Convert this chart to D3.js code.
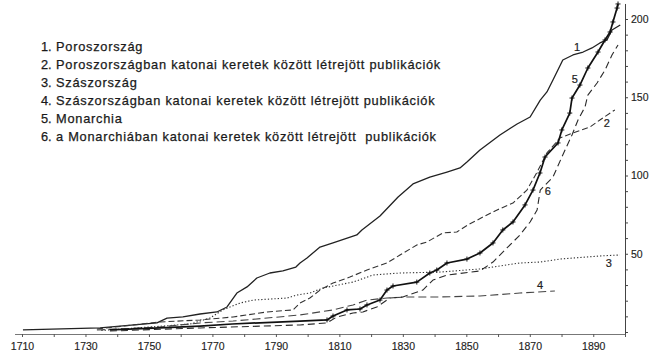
<!DOCTYPE html>
<html><head><meta charset="utf-8">
<script src="https://cdn.jsdelivr.net/npm/d3@7"></script>
<style>body{margin:0;background:#fff}svg{display:block}</style>
</head><body><svg id="c" width="661" height="358"></svg>
<script>
// ---- data ----
const legendNumbers = ["1.","2.","3.","4.","5.","6."];
const legendLabels = [
  "Poroszország",
  "Poroszországban katonai keretek között létrejött publikációk",
  "Szászország",
  "Szászországban katonai keretek között létrejött publikációk",
  "Monarchia",
  "a Monarchiában katonai keretek között létrejött  publikációk"
];
const xTickYears = d3.range(1710, 1901, 10);
const xLabelYears = [1710,1730,1750,1770,1790,1810,1830,1850,1870,1890];
const yTickValues = d3.range(0, 201, 10);
const yLabelValues = [50,100,150,200];

// [year, cumulative count]
const s1 = [[1710.3,1.3],[1734.6,2.6],[1752.5,5.8],[1755.7,8.9],[1760.7,9.6],[1766.1,11.5],[1771.4,12.8],[1774.6,16.0],[1777.7,24.9],[1780.9,28.8],[1784.0,34.5],[1788.1,37.7],[1792.2,39.0],[1796.3,41.5],[1797.6,44.1],[1799.8,47.3],[1803.9,54.3],[1808.0,56.9],[1815.5,62.0],[1817.1,65.2],[1822.8,74.1],[1828.5,86.3],[1833.2,94.6],[1838.5,99.0],[1843.9,102.2],[1848.0,104.8],[1850.2,108.6],[1854.3,116.3],[1860.6,125.9],[1866.0,132.9],[1870.1,137.4],[1873.3,148.2],[1875.4,153.4],[1877.3,161.0],[1880.4,173.8],[1883.6,177.0],[1886.8,178.9],[1889.6,181.5],[1892.1,184.7],[1894.3,186.6],[1895.9,193.0],[1898.5,196.2]];
const s2 = [[1733.6,1.9],[1753.5,6.4],[1766.1,7.7],[1776.5,9.6],[1787.2,12.8],[1795.4,14.1],[1797.6,18.5],[1800.7,21.7],[1803.9,26.8],[1808.0,31.3],[1813.3,35.1],[1818.7,39.6],[1825.0,44.1],[1829.1,49.2],[1834.4,55.6],[1837.6,57.5],[1842.6,63.3],[1847.0,63.9],[1850.5,68.4],[1856.5,74.8],[1859.7,78.0],[1864.7,82.4],[1869.1,90.7],[1872.3,102.2],[1875.4,114.4],[1879.5,124.0],[1883.6,127.2],[1889.0,131.0],[1892.1,135.5],[1896.8,141.9]];
const s3 = [[1735.0,1.0],[1750.3,3.2],[1763.0,5.1],[1769.2,8.9],[1773.3,14.1],[1778.7,18.5],[1782.8,20.4],[1793.5,21.7],[1796.6,23.6],[1800.7,24.9],[1804.8,28.1],[1814.3,31.9],[1820.6,36.4],[1829.1,37.7],[1841.7,38.3],[1854.3,40.3],[1866.9,44.1],[1873.2,44.7],[1879.5,46.6],[1892.1,48.6],[1898.4,49.2]];
const s4 = [[1733.6,1.3],[1753.5,3.2],[1766.1,5.8],[1776.5,7.0],[1787.2,8.9],[1797.6,10.9],[1808.0,14.1],[1814.3,17.3],[1818.7,20.4],[1825.0,21.7],[1831.3,22.4],[1841.7,22.4],[1854.3,23.0],[1866.9,24.9],[1877.9,26.2]];
const s5 = [[1737.7,1.3],[1753.5,2.6],[1766.1,3.8],[1776.2,5.1],[1797.6,7.0],[1806.1,7.7],[1808.0,10.2],[1812.4,14.1],[1816.5,14.7],[1818.7,17.3],[1822.8,20.4],[1825.0,26.8],[1826.9,29.4],[1834.4,31.9],[1838.5,37.7],[1840.7,39.6],[1843.9,44.1],[1850.2,46.6],[1854.3,50.5],[1858.4,56.9],[1861.5,65.2],[1864.7,70.3],[1868.5,81.2],[1871.0,90.7],[1873.2,101.6],[1874.8,111.8],[1878.9,120.8],[1880.1,129.1],[1882.6,139.9],[1883.3,149.5],[1885.8,157.8],[1888.3,168.7],[1891.5,178.9],[1893.7,186.6],[1895.3,191.7],[1896.2,198.1],[1897.5,207.0],[1897.8,209.6]];
const s6 = [[1737.7,0.6],[1766.1,2.6],[1797.6,4.5],[1806.1,5.8],[1809.2,9.6],[1814.3,12.1],[1817.4,12.8],[1821.8,16.0],[1825.9,21.7],[1830.0,22.4],[1836.3,26.8],[1839.5,33.2],[1843.9,36.4],[1854.3,39.0],[1858.4,44.7],[1862.8,53.7],[1866.9,62.0],[1870.1,70.3],[1872.3,78.0],[1873.3,90.7],[1877.3,99.0],[1880.1,111.8],[1883.3,125.9],[1885.2,135.5],[1887.4,143.8],[1888.3,151.4],[1891.2,159.1],[1893.7,167.4],[1895.9,177.0],[1897.8,183.4]];

const seriesLabels = ["1","2","3","4","5","6"];
const labelYears  = [1884.9,1894.3,1894.9,1873.2,1884.2,1875.7];
const labelValues = [181.5,132.9,43.5,29.4,161.0,89.5];

// ---- drawing ----
const svg = d3.select("#c");
const x = d3.scaleLinear().domain([1710, 1900]).range([22, 625]);
const y = d3.scaleLinear().domain([0, 200]).range([332, 19]);
const font = "'Liberation Sans', Arial, sans-serif";

// x axis
const xa = svg.append("g").attr("transform", "translate(0,334)")
  .call(d3.axisBottom(x).tickValues(xTickYears).tickSize(3).tickSizeOuter(0)
        .tickFormat(d => xLabelYears.includes(d) ? d : ""));
xa.select(".domain").attr("stroke", "#777").attr("d", `M${x(1707.8)},0.5H${x(1900)}`);
xa.selectAll(".tick line").attr("stroke", "#555");
xa.selectAll(".tick text").attr("font-family", font).attr("font-size", 10.5).attr("fill", "#222")
  .attr("stroke", "#222").attr("stroke-width", 0.15).attr("dy", "0.95em");

// right y axis
const ya = svg.append("g").attr("transform", `translate(${x(1900)},0)`)
  .call(d3.axisRight(y).tickValues(yTickValues).tickSize(3).tickSizeOuter(0)
        .tickFormat(d => yLabelValues.includes(d) ? d : ""));
ya.select(".domain").attr("stroke", "#444").attr("d", `M0.5,${y(-1.3)}V${y(209.6)}`);
ya.selectAll(".tick line").attr("stroke", "#444");
ya.selectAll(".tick text").attr("font-family", font).attr("font-size", 10.5).attr("fill", "#222")
  .attr("stroke", "#222").attr("stroke-width", 0.15).attr("x", 6);

const line = d3.line().x(d => x(d[0])).y(d => y(d[1]));
const styles = [
  {data: s1, stroke: "#222", width: 1.3, dash: null},
  {data: s2, stroke: "#333", width: 1.1, dash: "6,3"},
  {data: s3, stroke: "#333", width: 1.1, dash: "1.3,2"},
  {data: s4, stroke: "#444", width: 1.1, dash: "8,4"},
  {data: s5, stroke: "#111", width: 1.7, dash: null},
  {data: s6, stroke: "#2a2a2a", width: 1.1, dash: "7,4"}
];
styles.forEach(s => {
  svg.append("path").datum(s.data).attr("d", line)
    .attr("fill", "none").attr("stroke", s.stroke).attr("stroke-width", s.width)
    .attr("stroke-dasharray", s.dash).attr("stroke-linejoin", "round");
});

// crosses on series 5
svg.append("g").selectAll("path").data(s5.filter(d => d[0] >= 1806)).join("path")
  .attr("transform", d => `translate(${x(d[0])},${y(d[1])})`)
  .attr("d", "M-2.5,0H2.5M0,-2.5V2.5").attr("stroke", "#111").attr("stroke-width", 1);

// series number labels
svg.append("g").selectAll("text").data(seriesLabels).join("text")
  .attr("x", (d, i) => x(labelYears[i])).attr("y", (d, i) => y(labelValues[i]))
  .attr("text-anchor", "middle").attr("dominant-baseline", "middle")
  .attr("font-family", font).attr("font-size", 11).attr("fill", "#222")
  .attr("stroke", "#222").attr("stroke-width", 0.2).text(d => d);

// legend
const lg = svg.append("g");
lg.selectAll("text.num").data(legendNumbers).join("text").attr("class", "num")
  .attr("x", 41).attr("y", (d, i) => 48 + i * 18)
  .attr("dominant-baseline", "middle")
  .attr("font-family", font).attr("font-size", 12.8).attr("fill", "#1a1a1a")
  .attr("stroke", "#1a1a1a").attr("stroke-width", 0.25).text(d => d);
lg.selectAll("text.lab").data(legendLabels).join("text").attr("class", "lab")
  .attr("x", 56).attr("y", (d, i) => 48 + i * 18)
  .attr("dominant-baseline", "middle").style("white-space", "pre")
  .attr("letter-spacing", 0.75)
  .attr("font-family", font).attr("font-size", 12.8).attr("fill", "#1a1a1a")
  .attr("stroke", "#1a1a1a").attr("stroke-width", 0.25).text(d => d);
</script></body></html>
